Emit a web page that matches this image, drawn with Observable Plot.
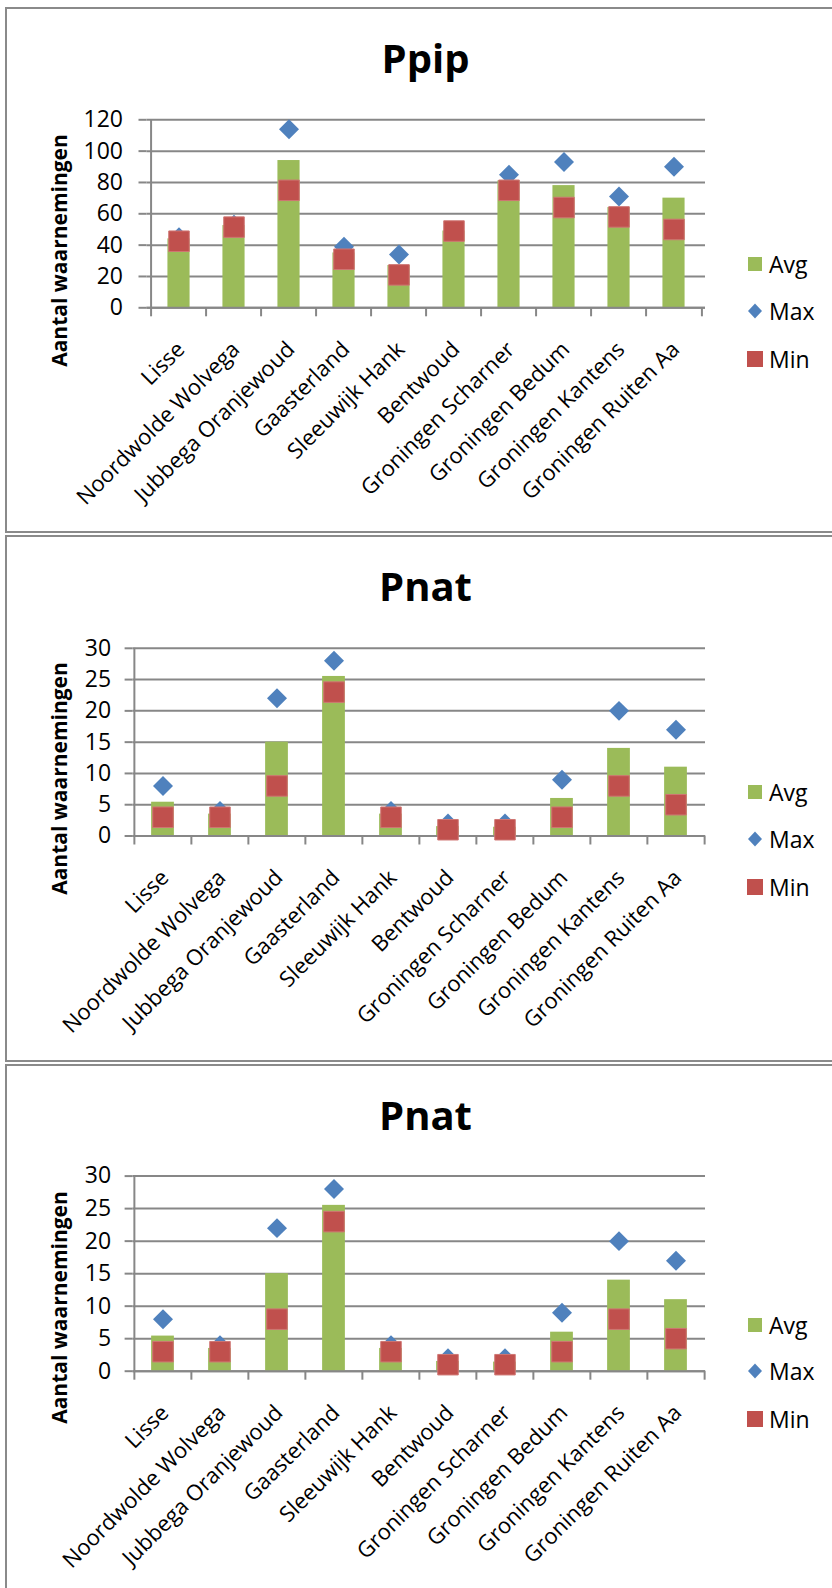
<!DOCTYPE html>
<html>
<head>
<meta charset="utf-8">
<script src="https://cdn.jsdelivr.net/npm/d3@7"></script>
<script src="https://cdn.jsdelivr.net/npm/@observablehq/plot@0.6"></script>
<style>
html, body { margin: 0; padding: 0; background: #fff; }
body { width: 832px; height: 1588px; overflow: hidden; position: relative; font-family: "Open Sans", sans-serif; }
.panel { position: absolute; left: 5px; width: 900px; border: 2px solid #8a8a8a; box-sizing: border-box; }
.chart { position: absolute; left: 0; }
.legend-item { position: absolute; left: 744px; height: 26px; display: flex; align-items: center; font-size: 23px; color: #000; }
.legend-item svg { width: 22px; height: 22px; margin-right: 3px; }
</style>
</head>
<body>
<script>
// ---------- data ----------
const sites = ["Lisse", "Noordwolde Wolvega", "Jubbega Oranjewoud", "Gaasterland", "Sleeuwijk Hank",
  "Bentwoud", "Groningen Scharner", "Groningen Bedum", "Groningen Kantens", "Groningen Ruiten Aa"];

const ppipAvg = [44, 52.5, 94, 35, 27, 49, 81, 78, 64, 70];
const ppipMax = [45, 53, 114, 39, 34, 49, 85, 93, 71, 90];
const ppipMin = [42.5, 51.5, 75, 31, 21, 49, 75, 64, 58, 50];

const pnatAvg = [5.4, 3.5, 15, 25.5, 3.5, 1.5, 1.4, 6, 14, 11];
const pnatMax = [8, 4, 22, 28, 4, 2, 2, 9, 20, 17];
const pnatMin = [3, 3, 8, 23, 3, 1, 1, 3, 8, 5];

const yTicksPpip = [0, 20, 40, 60, 80, 100, 120];
const yTicksPnat = [0, 5, 10, 15, 20, 25, 30];

const titles = ["Ppip", "Pnat", "Pnat"];
const yTitle = "Aantal waarnemingen";
const legendLabels = ["Avg", "Max", "Min"];

// ---------- style ----------
const GREEN = "#9BBB59", BLUE = "#4F81BD", RED = "#C0504D", GRID = "#878787";

function rows(avg, max, min) {
  return sites.map((s, i) => ({site: s, avg: avg[i], max: max[i], min: min[i]}));
}

const panels = [
  {title: titles[0], data: rows(ppipAvg, ppipMax, ppipMin), ticks: yTicksPpip,
   boxTop: 6.5, boxH: 526, top: 7, ml: 146.5, mt: 112.3, mb: 224.7, tickPad: 16, legendY: [256.5, 304, 352]},
  {title: titles[1], data: rows(pnatAvg, pnatMax, pnatMin), ticks: yTicksPnat,
   boxTop: 534.5, boxH: 527, top: 535, ml: 132.6, mt: 112.8, mb: 224.5, tickPad: 14, legendY: [257, 303.5, 351.7]},
  {title: titles[2], data: rows(pnatAvg, pnatMax, pnatMin), ticks: yTicksPnat,
   boxTop: 1063.5, boxH: 560, top: 1064, ml: 132.6, mt: 111.6, mb: 218.3, tickPad: 14, legendY: [261, 307, 355]}
];

const legendSymbols = [
  `<svg viewBox="-11 -11 22 22"><rect x="-7" y="-7" width="14" height="14" fill="${GREEN}"/></svg>`,
  `<svg viewBox="-11 -11 22 22"><path d="M0,-7.5L7,0L0,7.5L-7,0Z" fill="${BLUE}"/></svg>`,
  `<svg viewBox="-11 -11 22 22"><rect x="-8" y="-8" width="16" height="16" fill="${RED}"/></svg>`
];

function drawPanel(p) {
  const W = 832, H = 525, mr = 127;
  const bw = (W - p.ml - mr) / sites.length;
  const barW = 23;
  const inset = (bw - barW) / 2;

  const box = document.createElement("div");
  box.className = "panel";
  box.style.top = p.boxTop + "px";
  box.style.height = p.boxH + "px";
  document.body.appendChild(box);

  const svg = Plot.plot({
    width: W, height: H,
    marginLeft: p.ml, marginRight: mr, marginTop: p.mt, marginBottom: p.mb,
    style: {fontFamily: '"Open Sans", sans-serif', fontSize: "22px", background: "transparent", overflow: "visible", color: "#000"},
    x: {domain: sites, padding: 0, label: null},
    y: {domain: [0, d3.max(p.ticks)], label: null},
    marks: [
      Plot.ruleY(p.ticks, {stroke: GRID, strokeWidth: 2}),
      Plot.axisY({ticks: p.ticks, tickSize: 8, tickPadding: p.tickPad, stroke: GRID, strokeWidth: 2, fontSize: 23, label: null}),
      Plot.barY(p.data, {x: "site", y: "avg", fill: GREEN, insetLeft: inset, insetRight: inset}),
      Plot.ruleX([sites[0]], {dx: -bw / 2, stroke: GRID, strokeWidth: 2}),
      Plot.ruleY([0], {stroke: GRID, strokeWidth: 2}),
      Plot.axisX({tickSize: 9, tickFormat: () => "", dx: -bw / 2, stroke: GRID, strokeWidth: 2, label: null}),
      Plot.axisX({ticks: [sites[sites.length - 1]], tickSize: 9, tickFormat: () => "", dx: bw / 2, stroke: GRID, strokeWidth: 2, label: null}),
      Plot.axisX({tickSize: 0, tickPadding: 38, tickRotate: -45, fontSize: 22, dx: 2, label: null}),
      Plot.dot(p.data, {x: "site", y: "max", symbol: "diamond2", r: 9, fill: BLUE}),
      Plot.dot(p.data, {x: "site", y: "min", symbol: "square", r: 11.57, fill: RED, stroke: "#cf7673", strokeWidth: 1})
    ]
  });
  svg.classList.add("chart");
  svg.style.top = p.top + "px";
  svg.style.position = "absolute";
  svg.style.left = "0px";

  const s = d3.select(svg);
  s.append("text")
    .attr("x", 425.5).attr("y", 65.5)
    .attr("text-anchor", "middle")
    .attr("font-weight", 700).attr("font-size", 40)
    .attr("fill", "#000")
    .text(p.title);
  s.append("text")
    .attr("transform", "translate(67,243.5) rotate(-90)")
    .attr("text-anchor", "middle")
    .attr("font-weight", 700).attr("font-size", 21)
    .attr("fill", "#000")
    .text(yTitle);
  document.body.appendChild(svg);

  legendLabels.forEach((lab, k) => {
    const it = document.createElement("div");
    it.className = "legend-item";
    it.style.top = (p.top + p.legendY[k] - 13) + "px";
    it.innerHTML = legendSymbols[k] + `<span>${lab}</span>`;
    document.body.appendChild(it);
  });
}

panels.forEach(drawPanel);
</script>
</body>
</html>
